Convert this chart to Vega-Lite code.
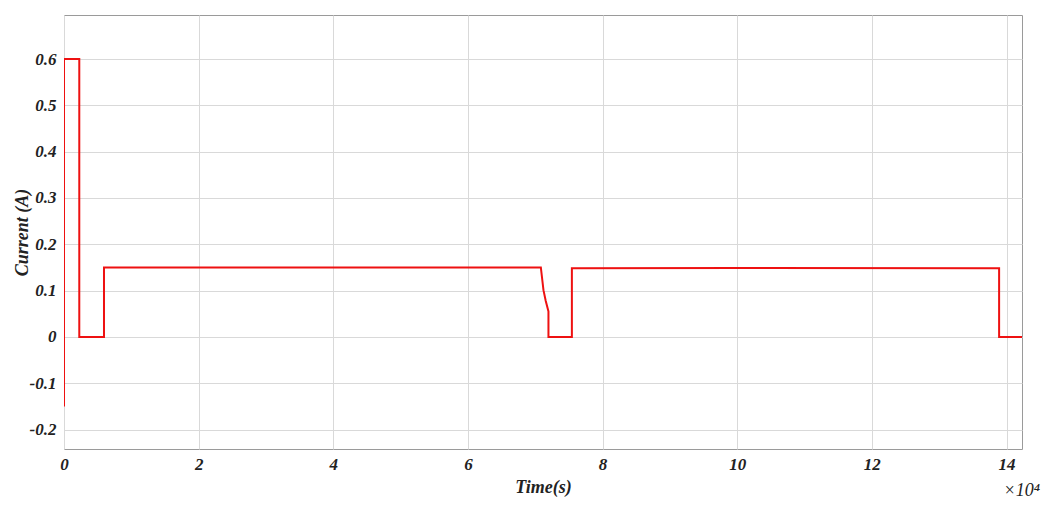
{
  "$schema": "https://vega.github.io/schema/vega-lite/v6.json",
  "autosize": {"type": "none"},
  "width": 958,
  "height": 434,
  "padding": {"left": 64, "top": 15, "right": 26, "bottom": 63},
  "background": "white",
  "title": {"text": "×10⁴", "orient": "bottom", "anchor": "end", "font": "Liberation Serif", "fontStyle": "italic", "fontWeight": "normal", "fontSize": 18, "color": "#222", "offset": 0, "dy": -14, "dx": 18},
  "config": {
    "view": {"stroke": "#9a9a9a", "strokeWidth": 1},
    "axis": {
      "labelFont": "Liberation Serif", "labelFontStyle": "italic", "labelFontWeight": "bold", "labelFontSize": 17, "labelColor": "#222",
      "titleFont": "Liberation Serif", "titleFontStyle": "italic", "titleFontWeight": "bold", "titleFontSize": 18, "titleColor": "#222",
      "gridColor": "#d9d9d9", "gridWidth": 1, "domain": false, "ticks": false
    }
  },
  "data": {"values": [
    {"i": 0, "t": 0, "current": -0.15},
    {"i": 1, "t": 0, "current": 0.6},
    {"i": 2, "t": 2270, "current": 0.6},
    {"i": 3, "t": 2270, "current": 0.0},
    {"i": 4, "t": 5940, "current": 0.0},
    {"i": 5, "t": 5940, "current": 0.15},
    {"i": 6, "t": 40000, "current": 0.15},
    {"i": 7, "t": 70830, "current": 0.15},
    {"i": 8, "t": 71220, "current": 0.101},
    {"i": 9, "t": 71550, "current": 0.078},
    {"i": 10, "t": 71960, "current": 0.055},
    {"i": 11, "t": 71960, "current": 0.0},
    {"i": 12, "t": 75440, "current": 0.0},
    {"i": 13, "t": 75440, "current": 0.148},
    {"i": 14, "t": 100000, "current": 0.149},
    {"i": 15, "t": 138900, "current": 0.148},
    {"i": 16, "t": 138900, "current": 0.0},
    {"i": 17, "t": 142400, "current": 0.0}
  ]},
  "mark": {"type": "line", "color": "#ee1111", "strokeWidth": 2, "clip": true},
  "encoding": {
    "x": {"field": "t", "type": "quantitative", "title": "Time(s)",
      "scale": {"domain": [0, 142300], "nice": false, "zero": false},
      "axis": {"values": [0, 20000, 40000, 60000, 80000, 100000, 120000, 140000], "labelExpr": "'' + datum.value/10000", "labelPadding": 7, "titlePadding": 6, "labelFlush": false}},
    "y": {"field": "current", "type": "quantitative", "title": "Current (A)",
      "scale": {"domain": [-0.242, 0.695], "nice": false, "zero": false},
      "axis": {"values": [-0.2, -0.1, 0, 0.1, 0.2, 0.3, 0.4, 0.5, 0.6], "labelExpr": "'' + round(datum.value*10)/10", "labelPadding": 8, "titlePadding": -2}},
    "order": {"field": "i", "type": "quantitative"}
  }
}
